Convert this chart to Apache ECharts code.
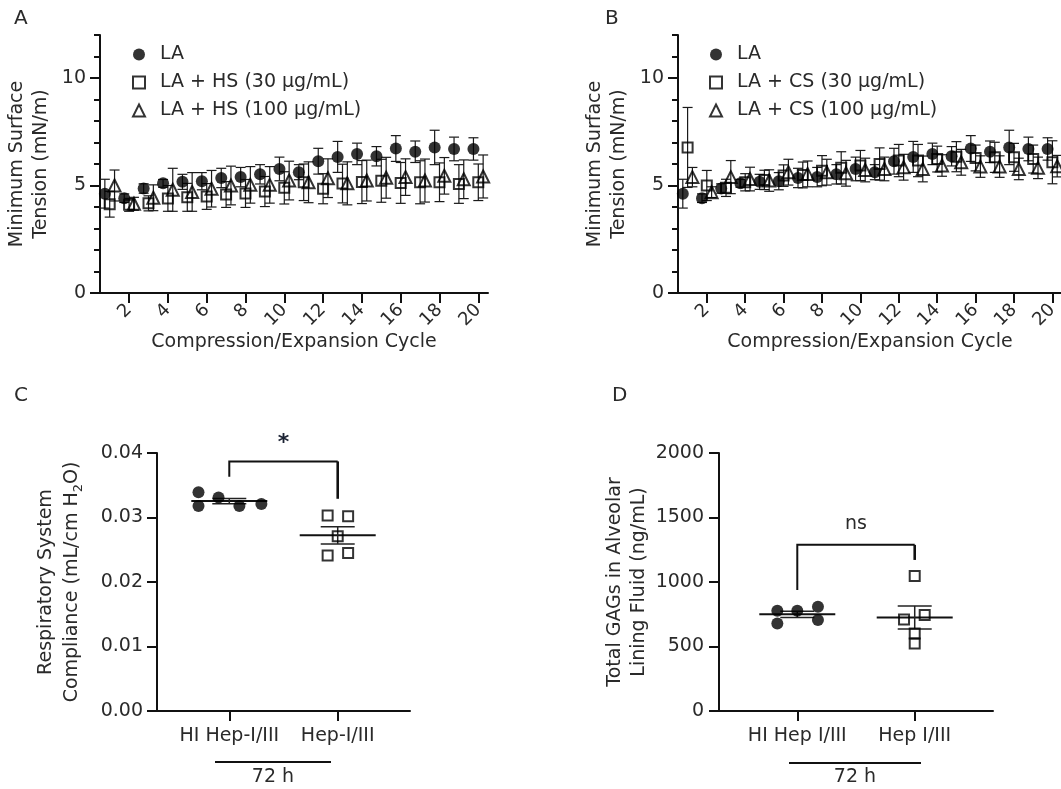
<!DOCTYPE html>
<html>
<head>
<meta charset="utf-8">
<script src="https://cdn.jsdelivr.net/npm/echarts@6/dist/echarts.min.js"></script>
<style>
  html, body { margin: 0; padding: 0; background: #fff; }
  #chart { width: 1061px; height: 789px; }
</style>
</head>
<body>
<div id="chart"></div>
<script>
// ---- data ----
const cycles = [1, 2, 3, 4, 5, 6, 7, 8, 9, 10, 11, 12, 13, 14, 15, 16, 17, 18, 19, 20];
const cycleTicks = [2, 4, 6, 8, 10, 12, 14, 16, 18, 20];
const tensionTicks = [0, 5, 10];

const laMean = [4.62, 4.41, 4.86, 5.10, 5.17, 5.20, 5.35, 5.39, 5.52, 5.77, 5.62, 6.13, 6.33, 6.47, 6.36, 6.72, 6.57, 6.77, 6.70, 6.70];
const laErr = [0.67, 0.20, 0.22, 0.18, 0.35, 0.40, 0.45, 0.45, 0.45, 0.55, 0.35, 0.60, 0.72, 0.50, 0.45, 0.60, 0.50, 0.80, 0.55, 0.52];
const hs30Mean = [4.13, 4.10, 4.17, 4.40, 4.45, 4.49, 4.58, 4.63, 4.72, 4.89, 5.15, 4.85, 5.09, 5.16, 5.22, 5.12, 5.15, 5.15, 5.07, 5.15];
const hs30Err = [0.60, 0.30, 0.35, 0.60, 0.65, 0.60, 0.60, 0.65, 0.70, 0.75, 0.85, 0.70, 0.90, 1.00, 1.00, 0.95, 1.00, 0.90, 0.90, 0.85];
const hs100Mean = [5.00, 4.15, 4.43, 4.80, 4.70, 4.85, 5.00, 5.03, 5.03, 5.23, 5.15, 5.34, 5.10, 5.23, 5.36, 5.39, 5.23, 5.45, 5.29, 5.42];
const hs100Err = [0.72, 0.30, 0.60, 1.00, 0.90, 0.85, 0.90, 0.85, 0.85, 0.90, 0.95, 0.90, 1.00, 0.95, 0.95, 0.85, 1.00, 0.85, 0.90, 1.00];
const cs30Mean = [6.77, 5.00, 4.89, 5.15, 5.26, 5.46, 5.49, 5.69, 5.82, 5.93, 6.00, 6.16, 6.16, 6.23, 6.34, 6.28, 6.31, 6.31, 6.23, 6.08];
const cs30Err = [1.86, 0.70, 0.40, 0.40, 0.45, 0.50, 0.60, 0.70, 0.75, 0.70, 0.75, 0.75, 0.75, 0.60, 0.70, 0.60, 0.70, 0.65, 0.65, 1.00];
const cs100Mean = [5.39, 4.69, 5.39, 5.30, 5.23, 5.62, 5.54, 5.62, 5.57, 5.72, 5.77, 5.85, 5.77, 5.93, 6.08, 5.88, 5.88, 5.77, 5.82, 5.90];
const cs100Err = [0.45, 0.25, 0.77, 0.55, 0.50, 0.60, 0.60, 0.60, 0.60, 0.55, 0.55, 0.60, 0.60, 0.50, 0.60, 0.50, 0.50, 0.50, 0.50, 0.50];

const complianceGroups = ['HI Hep-I/III', 'Hep-I/III'];
const complianceHI = [0.0339, 0.0318, 0.0331, 0.0318, 0.0321];
const complianceHep = [0.0303, 0.0302, 0.0271, 0.0241, 0.0245];

const gagGroups = ['HI Hep I/III', 'Hep I/III'];
const gagHI = [777, 679, 777, 808, 705];
const gagHep = [1047, 710, 744, 601, 524];

// ---- helpers ----
const FONT = 'DejaVu Sans';
const TXT = '#2a2a2a';
const INK = '#111';

// horizontal spread of the dots inside a group (layout only)
const spreadC = { hi: [-0.284, -0.284, -0.099, 0.093, 0.296], hep: [-0.093, 0.096, 0, -0.093, 0.096] };
const spreadD = { hi: [-0.17, -0.17, 0, 0.176, 0.176], hep: [0, -0.091, 0.085, 0, 0] };

function pts(means, shift) {
  return cycles.map((c, i) => [c + shift, means[i]]);
}
function errPts(means, errs, shift) {
  return cycles.map((c, i) => [c + shift, means[i], errs[i]]);
}
function meanSem(vals) {
  const n = vals.length;
  const m = vals.reduce((a, b) => a + b, 0) / n;
  const sd = Math.sqrt(vals.reduce((a, b) => a + (b - m) * (b - m), 0) / (n - 1));
  return [m, sd / Math.sqrt(n)];
}

function errorBarItem(params, api) {
  const x = api.value(0), y = api.value(1), e = api.value(2);
  const hi = api.coord([x, y + e]), lo = api.coord([x, y - e]);
  const w = 5;
  const st = { stroke: '#1a1a1a', lineWidth: 1.2 };
  return {
    type: 'group',
    children: [
      { type: 'line', shape: { x1: hi[0], y1: hi[1], x2: lo[0], y2: lo[1] }, style: st },
      { type: 'line', shape: { x1: hi[0] - w, y1: hi[1], x2: hi[0] + w, y2: hi[1] }, style: st },
      { type: 'line', shape: { x1: lo[0] - w, y1: lo[1], x2: lo[0] + w, y2: lo[1] }, style: st }
    ]
  };
}

function meanSemItem(params, api) {
  const x = api.value(0), m = api.value(1), s = api.value(2);
  const c = api.coord([x, m]), hi = api.coord([x, m + s]), lo = api.coord([x, m - s]);
  const st = { stroke: INK, lineWidth: 2 };
  const st2 = { stroke: '#222', lineWidth: 1.5 };
  return {
    type: 'group',
    children: [
      { type: 'line', shape: { x1: c[0] - 38, y1: c[1], x2: c[0] + 38, y2: c[1] }, style: st },
      { type: 'line', shape: { x1: hi[0], y1: hi[1], x2: lo[0], y2: lo[1] }, style: st2 },
      { type: 'line', shape: { x1: hi[0] - 17, y1: hi[1], x2: hi[0] + 17, y2: hi[1] }, style: st2 },
      { type: 'line', shape: { x1: lo[0] - 17, y1: lo[1], x2: lo[0] + 17, y2: lo[1] }, style: st2 }
    ]
  };
}

function bracketItem(label, labelStyle) {
  return function (params, api) {
    const x1 = api.value(0), x2 = api.value(1), top = api.value(2), yl = api.value(3), yr = api.value(4);
    const a = api.coord([x1, yl]), b = api.coord([x1, top]), c = api.coord([x2, top]), d = api.coord([x2, yr]);
    return {
      type: 'group',
      children: [
        { type: 'polyline', shape: { points: [a, b, c] }, style: { stroke: INK, lineWidth: 2, fill: null } },
        { type: 'line', shape: { x1: c[0], y1: c[1], x2: d[0], y2: d[1] }, style: { stroke: INK, lineWidth: 2.6 } },
        {
          type: 'text', x: (b[0] + c[0]) / 2, y: b[1] - labelStyle.dy,
          style: Object.assign({ text: label, align: 'center', verticalAlign: 'middle', fontFamily: FONT }, labelStyle.style)
        }
      ]
    };
  };
}

const circleStyle = { symbol: 'circle', symbolSize: 12, itemStyle: { color: '#000' } };
const squareStyle = { symbol: 'rect', symbolSize: 10, itemStyle: { color: 'rgba(0,0,0,0)', borderColor: '#000', borderWidth: 2 } };
const triStyle = { symbol: 'triangle', symbolSize: 12, itemStyle: { color: 'rgba(0,0,0,0)', borderColor: '#000', borderWidth: 2 } };

function cycleSeries(idx, name, means, errs, shift, sym) {
  return [
    { type: 'custom', xAxisIndex: idx, yAxisIndex: idx, renderItem: errorBarItem, data: errPts(means, errs, shift), encode: { x: 0, y: 1 }, silent: true },
    Object.assign({ type: 'scatter', name: name, xAxisIndex: idx, yAxisIndex: idx, data: pts(means, shift) }, sym)
  ];
}

const FS = 19;
const axisLine = { show: true, onZero: false, lineStyle: { color: INK, width: 2 } };
const axisTick = { show: true, length: 10, lineStyle: { color: INK, width: 2 } };
const labelFont = { color: TXT, fontSize: FS, fontFamily: FONT };
const nameFont = { color: TXT, fontSize: FS, fontFamily: FONT, lineHeight: 24 };

function cycleX(grid) {
  return {
    type: 'value', gridIndex: grid, min: 0.5, max: 20.5,
    name: 'Compression/Expansion Cycle', nameLocation: 'middle', nameGap: 37, nameMoveOverlap: false, nameTextStyle: nameFont,
    axisLine: axisLine,
    axisTick: Object.assign({}, axisTick, { customValues: cycleTicks }),
    axisLabel: Object.assign({}, labelFont, { fontSize: 18, customValues: cycleTicks, rotate: 45, margin: 14 }),
    splitLine: { show: false }
  };
}
function tensionY(grid) {
  return {
    type: 'value', gridIndex: grid, min: 0, max: 12, interval: 1, position: 'left',
    name: 'Minimum Surface\nTension (mN/m)', nameLocation: 'middle', nameGap: 47, nameTextStyle: nameFont,
    axisLine: axisLine,
    axisTick: { show: true, length: 6, lineStyle: { color: INK, width: 2 } },
    axisLabel: Object.assign({}, labelFont, { customValues: tensionTicks, margin: 14 }),
    splitLine: { show: false }
  };
}
function tensionMajorY(grid) {
  return {
    type: 'value', gridIndex: grid, min: 0, max: 12, position: 'left', offset: 0,
    axisLine: { show: false },
    axisTick: Object.assign({}, axisTick, { customValues: tensionTicks }),
    axisLabel: { show: false },
    splitLine: { show: false }
  };
}
function groupX(grid, groups) {
  return {
    type: 'value', gridIndex: grid, min: 1 - 2 / 3, max: 2 + 2 / 3,
    axisLine: axisLine,
    axisTick: Object.assign({}, axisTick, { customValues: [1, 2] }),
    axisLabel: Object.assign({}, labelFont, { customValues: [1, 2], margin: 16, formatter: v => groups[Math.round(v) - 1] }),
    splitLine: { show: false }
  };
}
function legendFor(names, left) {
  return {
    data: names, orient: 'vertical', left: left, top: 40, itemWidth: 12, itemHeight: 12, itemGap: 9,
    selectedMode: false,
    formatter: n => '{t|' + n + '}',
    textStyle: { color: TXT, fontSize: FS, fontFamily: FONT, rich: { t: { fontSize: FS, fontFamily: FONT, color: TXT, padding: [0, 0, 0, 10] } } }
  };
}

const statsC = [[1].concat(meanSem(complianceHI)), [2].concat(meanSem(complianceHep))];
const statsD = [[1].concat(meanSem(gagHI)), [2].concat(meanSem(gagHep))];

const option = {
  backgroundColor: '#fff',
  animation: false,
  grid: [
    { left: 100, top: 35, width: 388, height: 258, outerBoundsMode: 'none' },
    { left: 678, top: 35, width: 384, height: 258, outerBoundsMode: 'none' },
    { left: 157, top: 453, width: 253, height: 258, outerBoundsMode: 'none' },
    { left: 719, top: 453, width: 274, height: 258, outerBoundsMode: 'none' }
  ],
  legend: [
    legendFor(['LA', 'LA + HS (30 µg/mL)', 'LA + HS (100 µg/mL)'], 127),
    legendFor(['LA', 'LA + CS (30 µg/mL)', 'LA + CS (100 µg/mL)'], 704)
  ],
  xAxis: [cycleX(0), cycleX(1), groupX(2, complianceGroups), groupX(3, gagGroups)],
  yAxis: [
    tensionY(0),
    tensionY(1),
    {
      type: 'value', gridIndex: 2, min: 0, max: 0.04, interval: 0.01,
      name: 'Respiratory System\nCompliance (mL/cm H{sub|2}O)', nameLocation: 'middle', nameGap: 72,
      nameTextStyle: Object.assign({}, nameFont, { lineHeight: 26, rich: { sub: { fontSize: 13, fontFamily: FONT, color: TXT, verticalAlign: 'bottom', lineHeight: 26 } } }),
      axisLine: axisLine, axisTick: axisTick,
      axisLabel: Object.assign({}, labelFont, { margin: 14, formatter: v => v.toFixed(2) }),
      splitLine: { show: false }
    },
    {
      type: 'value', gridIndex: 3, min: 0, max: 2000, interval: 500,
      name: 'Total GAGs in Alveolar\nLining Fluid (ng/mL)', nameLocation: 'middle', nameGap: 68, nameTextStyle: nameFont,
      axisLine: axisLine, axisTick: axisTick,
      axisLabel: Object.assign({}, labelFont, { margin: 15, formatter: v => String(v) }),
      splitLine: { show: false }
    },
    tensionMajorY(0),
    tensionMajorY(1)
  ],
  series: [].concat(
    cycleSeries(0, 'LA', laMean, laErr, -0.25, circleStyle),
    cycleSeries(0, 'LA + HS (30 µg/mL)', hs30Mean, hs30Err, 0, squareStyle),
    cycleSeries(0, 'LA + HS (100 µg/mL)', hs100Mean, hs100Err, 0.25, triStyle),
    cycleSeries(1, 'LA', laMean, laErr, -0.25, circleStyle),
    cycleSeries(1, 'LA + CS (30 µg/mL)', cs30Mean, cs30Err, 0, squareStyle),
    cycleSeries(1, 'LA + CS (100 µg/mL)', cs100Mean, cs100Err, 0.25, triStyle),
    [
      Object.assign({ type: 'scatter', name: complianceGroups[0], xAxisIndex: 2, yAxisIndex: 2,
        data: complianceHI.map((v, i) => [1 + spreadC.hi[i], v]) }, circleStyle),
      Object.assign({ type: 'scatter', name: complianceGroups[1], xAxisIndex: 2, yAxisIndex: 2,
        data: complianceHep.map((v, i) => [2 + spreadC.hep[i], v]) }, squareStyle),
      { type: 'custom', xAxisIndex: 2, yAxisIndex: 2, renderItem: meanSemItem, data: statsC, encode: { x: 0, y: 1 }, silent: true },
      { type: 'custom', xAxisIndex: 2, yAxisIndex: 2, silent: true, encode: { x: 0, y: 2 },
        renderItem: bracketItem('*', { dy: 18, style: { fontSize: 22, fontWeight: 'bold', fill: '#1b2233' } }),
        data: [[1, 2, 0.0387, 0.0363, 0.0329]] },

      Object.assign({ type: 'scatter', name: gagGroups[0], xAxisIndex: 3, yAxisIndex: 3,
        data: gagHI.map((v, i) => [1 + spreadD.hi[i], v]) }, circleStyle),
      Object.assign({ type: 'scatter', name: gagGroups[1], xAxisIndex: 3, yAxisIndex: 3,
        data: gagHep.map((v, i) => [2 + spreadD.hep[i], v]) }, squareStyle),
      { type: 'custom', xAxisIndex: 3, yAxisIndex: 3, renderItem: meanSemItem, data: statsD, encode: { x: 0, y: 1 }, silent: true },
      { type: 'custom', xAxisIndex: 3, yAxisIndex: 3, silent: true, encode: { x: 0, y: 2 },
        renderItem: bracketItem('ns', { dy: 21, style: { fontSize: FS, fill: TXT } }),
        data: [[1, 2, 1288, 938, 1171]] }
    ]
  ),
  graphic: [
    { type: 'text', left: 14, top: 9, style: { text: 'A', fontSize: 20, fontFamily: FONT, fill: TXT } },
    { type: 'text', left: 605, top: 9, style: { text: 'B', fontSize: 20, fontFamily: FONT, fill: TXT } },
    { type: 'text', left: 14, top: 386, style: { text: 'C', fontSize: 20, fontFamily: FONT, fill: TXT } },
    { type: 'text', left: 612, top: 386, style: { text: 'D', fontSize: 20, fontFamily: FONT, fill: TXT } },
    { type: 'line', shape: { x1: 215, y1: 762, x2: 331, y2: 762 }, style: { stroke: INK, lineWidth: 2 } },
    { type: 'text', x: 273, y: 777, style: { text: '72 h', align: 'center', verticalAlign: 'middle', fontSize: FS, fontFamily: FONT, fill: TXT } },
    { type: 'line', shape: { x1: 789, y1: 763, x2: 921, y2: 763 }, style: { stroke: INK, lineWidth: 2 } },
    { type: 'text', x: 855, y: 777, style: { text: '72 h', align: 'center', verticalAlign: 'middle', fontSize: FS, fontFamily: FONT, fill: TXT } }
  ]
};

const chart = echarts.init(document.getElementById('chart'));
chart.setOption(option);
</script>
</body>
</html>
